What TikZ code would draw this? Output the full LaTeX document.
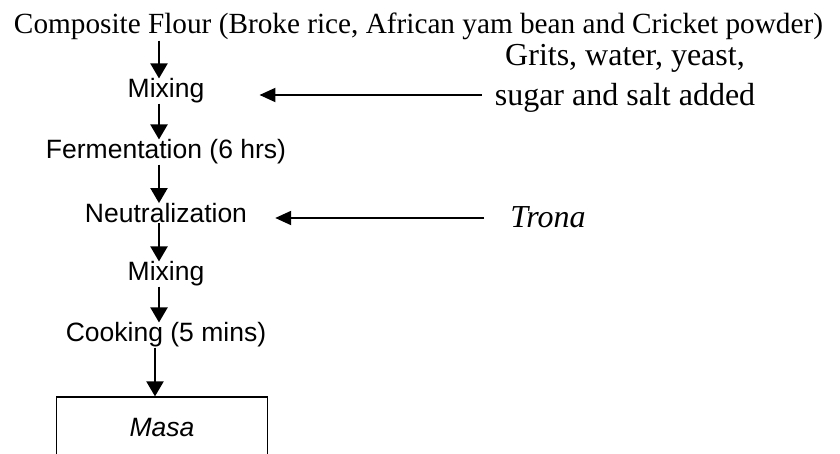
\documentclass[tikz,border=0pt]{standalone}
\usepackage{fontspec}
\setmainfont{Liberation Serif}
\setsansfont{Liberation Sans}
\usetikzlibrary{arrows.meta,chains,positioning,calc}

\begin{document}
\begin{tikzpicture}[%
    x=1pt, y=-1pt,
    start chain=going below,    % Process steps run top-to-bottom
    node distance=61pt,         % Spacing of the process steps
    ]
% -------------------------------------------------
% Text and box styles
% <on grid> before <on chain> so that the steps are spaced centre to centre
\tikzset{
  serif/.style={inner sep=0pt, font=\fontsize{29.25}{40}\selectfont},
  side/.style={inner sep=0pt, font=\fontsize{32}{40}\selectfont},
  base/.style={on grid, on chain, inner sep=0pt, font=\sffamily\fontsize{26.5}{30}\selectfont},
  proc/.style={base},
  term/.style={draw, on grid, line width=1.2pt, minimum width=211pt, minimum height=62pt,
    inner sep=0pt, font=\sffamily\itshape\fontsize{26.5}{30}\selectfont},
  % -------------------------------------------------
  % Connector styles
  flow/.style={-{Triangle[length=15pt,width=17pt]}, line width=2.1pt},
  feed/.style={-{Triangle[length=16pt,width=14pt]}, line width=2.1pt},
}
\clip (0,0) rectangle (840,454);
% -------------------------------------------------
% Raw material
\node [serif, anchor=base] (flour) at (418.5,34)
  {Composite Flour (Broke rice, African yam bean and Cricket powder)};
% -------------------------------------------------
% Process steps
\node [proc] (mix1) at (166,91) {Mixing};
\node [proc] (ferm) {Fermentation (6 hrs)};
\node [proc] (neut) {Neutralization};
\node [proc] (mix2) {Mixing};
\node [proc] (cook) {Cooking (5 mins)};
\node [term, below=93pt of cook, xshift=-4pt] (masa) {Masa};
% -------------------------------------------------
% Added ingredients
\node [side, align=center] (grits) at (625,78) {Grits, water, yeast,\\ sugar and salt added};
\node [side] (trona) at (548,217) {\itshape Trona};
% -------------------------------------------------
% Main flow
\foreach \a/\b in {flour/mix1, mix1/ferm, ferm/neut, neut/mix2, mix2/cook, cook/masa}
  \draw [flow] ($(\a.south -| \b.north)+(-7,0)$) -- ($(\b.north)+(-7,0)$);
% Side inputs
\draw [feed] ($(grits.west |- mix1)+(-13,4)$) -- ($(mix1.east)+(55,4)$);
\draw [feed] ($(trona.west |- neut)+(-26,5)$) -- ($(neut.east)+(28,5)$);
\end{tikzpicture}
\end{document}
